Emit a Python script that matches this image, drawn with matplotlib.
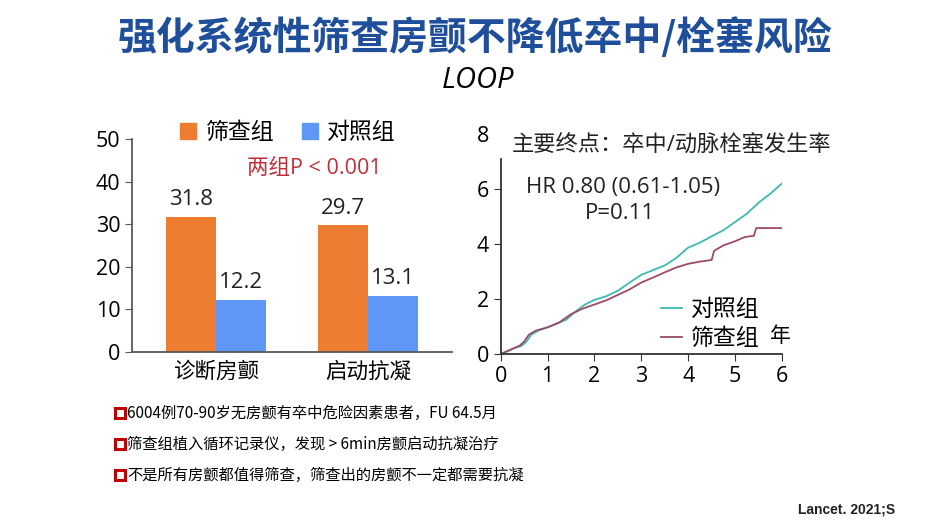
import matplotlib.pyplot as plt
from matplotlib.lines import Line2D
from matplotlib.patches import Patch, Rectangle

plt.rcParams['font.family'] = ['Open Sans', 'Noto Sans CJK SC', 'DejaVu Sans']

# ---- data ----
categories = ["诊断房颤", "启动抗凝"]
screen_vals = [31.8, 29.7]
control_vals = [12.2, 13.1]

ctrl_years = [0, 0.15, 0.3, 0.45, 0.55, 0.65, 0.8, 1.0, 1.2, 1.4, 1.6, 1.8, 2.0, 2.25,
              2.5, 2.75, 3.0, 3.25, 3.5, 3.75, 4.0, 4.25, 4.5, 4.75, 5.0, 5.25, 5.5, 5.75, 6.0]
ctrl_rate = [0, 0.1, 0.22, 0.3, 0.45, 0.7, 0.85, 0.97, 1.1, 1.25, 1.55, 1.8, 1.97, 2.1,
             2.3, 2.6, 2.88, 3.05, 3.22, 3.5, 3.87, 4.05, 4.28, 4.5, 4.8, 5.1, 5.5, 5.83, 6.2]

scr_years = [0, 0.2, 0.4, 0.5, 0.6, 0.75, 1.0, 1.25, 1.5, 1.75, 2.0, 2.25, 2.5, 2.75,
             3.0, 3.25, 3.5, 3.75, 4.0, 4.25, 4.5, 4.55, 4.75, 5.0, 5.2, 5.4, 5.45, 6.0]
scr_rate = [0, 0.15, 0.3, 0.45, 0.7, 0.85, 0.97, 1.15, 1.45, 1.65, 1.8, 1.95, 2.15, 2.35,
            2.6, 2.78, 2.97, 3.15, 3.28, 3.36, 3.42, 3.75, 3.95, 4.1, 4.25, 4.3, 4.58, 4.58]

bullets = [
    "6004例70-90岁无房颤有卒中危险因素患者，FU 64.5月",
    "筛查组植入循环记录仪，发现 > 6min房颤启动抗凝治疗",
    "不是所有房颤都值得筛查，筛查出的房颤不一定都需要抗凝",
]

ORANGE = "#ED7D31"
BLUE = "#5E97F6"
TEAL = "#3DB8B3"
MAROON = "#9C4A68"
TITLE_BLUE = "#1F4E9A"
RED = "#C0303A"

fig = plt.figure(figsize=(9.5, 5.27), dpi=100)
fig.patch.set_facecolor("white")

fig.text(0.5, 1 - 38 / 527, "强化系统性筛查房颤不降低卒中/栓塞风险", ha="center", va="center",
         fontsize=28, fontweight="bold", color=TITLE_BLUE, family="Noto Sans CJK SC")
fig.text(478 / 950, 1 - 80 / 527, "LOOP", ha="center", va="center", fontsize=21,
         style="italic", color="black")

# ---- left: bar chart ----
ax1 = fig.add_axes([132 / 950, 1 - 352 / 527, 320 / 950, 213 / 527])
x = [0, 1]
w = 0.33
b1 = ax1.bar([i - w / 2 for i in x], screen_vals, w, color=ORANGE)
b2 = ax1.bar([i + w / 2 for i in x], control_vals, w, color=BLUE)
for bars in (b1, b2):
    for r in bars:
        ax1.annotate(f"{r.get_height():.1f}", (r.get_x() + r.get_width() / 2, r.get_height()),
                     xytext=(0, 5), textcoords="offset points", ha="center", va="bottom",
                     fontsize=16, color="#222222")
ax1.set_xlim(-0.553, 1.553)
ax1.set_ylim(0, 50)
ax1.set_yticks(range(0, 51, 10))
ax1.set_xticks(x)
ax1.set_xticklabels(categories, family="Noto Sans CJK SC")
ax1.tick_params(axis="x", length=0, labelsize=15.5, pad=6)
ax1.tick_params(axis="y", length=5, labelsize=15.5, color="#595959")
for s in ("top", "right"):
    ax1.spines[s].set_visible(False)
for s in ("left", "bottom"):
    ax1.spines[s].set_color("#595959")
    ax1.spines[s].set_linewidth(1.3)
ax1.legend(handles=[Patch(color=ORANGE, label="筛查组"), Patch(color=BLUE, label="对照组")],
           loc="center", bbox_to_anchor=(288 / 950, 1 - 133 / 527), bbox_transform=fig.transFigure,
           ncol=2, frameon=False, fontsize=16.5, handlelength=0.7, handleheight=0.7,
           handletextpad=0.4, columnspacing=1.2)
fig.text(314 / 950, 1 - 168 / 527, "两组P < 0.001", ha="center", va="center", fontsize=15.5, color=RED)

# ---- right: cumulative incidence ----
ax2 = fig.add_axes([500.7 / 950, 1 - 354 / 527, 281.3 / 950, 220 / 527])
ax2.plot(ctrl_years, ctrl_rate, color=TEAL, lw=1.3)
ax2.plot(scr_years, scr_rate, color=MAROON, lw=1.3)
ax2.set_xlim(0, 6)
ax2.set_ylim(0, 8)
ax2.set_xticks(range(0, 7))
ax2.set_yticks(range(0, 9, 2))
ax2.tick_params(labelsize=15.5, length=5, color="#333333")
ax2.yaxis.get_major_ticks()[-1].tick1line.set_visible(False)
for s in ("top", "right"):
    ax2.spines[s].set_visible(False)
ax2.spines["left"].set_bounds(0, 7.1)
for s in ("left", "bottom"):
    ax2.spines[s].set_linewidth(1.3)
    ax2.spines[s].set_color("#333333")
ax2.legend(handles=[Line2D([], [], color=TEAL, lw=1.3, label="对照组"),
                    Line2D([], [], color=MAROON, lw=1.3, label="筛查组")],
           loc="upper left", bbox_to_anchor=(650 / 950, 1 - 287 / 527), bbox_transform=fig.transFigure,
           frameon=False, fontsize=16.5, handlelength=0.9, handletextpad=0.4, labelspacing=0.2,
           borderpad=0)
fig.text(780 / 950, 1 - 336 / 527, "年", ha="center", va="center", fontsize=15)
fig.text(512 / 950, 1 - 146 / 527, "主要终点：卒中/动脉栓塞发生率", ha="left", va="center",
         fontsize=16, color="#222222")
fig.text(623 / 950, 1 - 187 / 527, "HR 0.80 (0.61-1.05)", ha="center", va="center",
         fontsize=16, color="#222222")
fig.text(620 / 950, 1 - 214 / 527, "P=0.11", ha="center", va="center", fontsize=16, color="#222222")

# ---- bullets ----
for i, t in enumerate(bullets):
    yy = 1 - (413 + i * 31) / 527
    fig.patches.append(Rectangle((115 / 950, yy - 5 / 527), 10 / 950, 10 / 527,
                                 transform=fig.transFigure, fill=False, ec="#C00000", lw=2.2))
    fig.text(127 / 950, yy, t, ha="left", va="center", fontsize=11,
             family="Noto Sans CJK SC", color="black")

fig.text(895 / 950, 1 - 510 / 527, "Lancet. 2021;S", ha="right", va="center", fontsize=10,
         fontweight="bold", family="Liberation Sans", color="#222222")

fig.savefig("out.png", dpi=100, facecolor="white")
